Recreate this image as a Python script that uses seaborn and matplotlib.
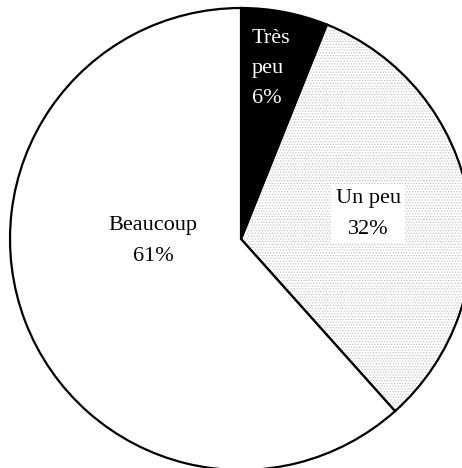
import matplotlib
matplotlib.use("Agg")
import matplotlib.pyplot as plt
import matplotlib.patches as mpatches
import seaborn as sns

sns.set_theme(style="white")
plt.rcParams['font.family'] = ['Liberation Serif', 'DejaVu Serif']
plt.rcParams['hatch.linewidth'] = 0.6

categories = ["Très peu", "Un peu", "Beaucoup"]
values = [6, 32, 61]
pct_labels = ["6%", "32%", "61%"]
colors = ["black", "white", "white"]

fig = plt.figure(figsize=(4.62, 4.68), dpi=100)
ax = fig.add_axes([0, 0, 1, 1])

cx, cy, R = 241, 239, 231
def px(x, y):
    return (x - cx) / R, (cy - y) / R

wedges, _ = ax.pie(values, colors=colors, startangle=90, counterclock=False,
                   radius=1, wedgeprops=dict(edgecolor="black", linewidth=1.6))

# stipple texture for "Un peu"
w = wedges[1]
tex = mpatches.Wedge(w.center, w.r, w.theta1, w.theta2, facecolor="white",
                     edgecolor="#c4c4c4", hatch="......", linewidth=0, zorder=0.5)
ax.add_patch(tex)
w.set_facecolor("none")
w.set_zorder(1)

fs = 16
ls = 1.8
x, y = px(252, 29)
ax.text(x, y, "Très\npeu\n" + pct_labels[0], color="white", fontsize=fs,
        ha="left", va="top", linespacing=ls, zorder=3)
x, y = px(368, 214)
ax.text(x, y, "Un peu\n" + pct_labels[1], color="black", fontsize=fs,
        ha="center", va="center", multialignment="center", linespacing=ls,
        bbox=dict(facecolor="white", edgecolor="none", pad=3), zorder=3)
x, y = px(153, 241)
ax.text(x, y, "Beaucoup\n" + pct_labels[2], color="black", fontsize=fs,
        ha="center", va="center", multialignment="center", linespacing=ls, zorder=3)

ax.set_xlim((0 - cx) / R, (462 - cx) / R)
ax.set_ylim((cy - 468) / R, cy / R)
ax.set_aspect("auto")
ax.axis("off")
fig.savefig("out.png", dpi=100)
